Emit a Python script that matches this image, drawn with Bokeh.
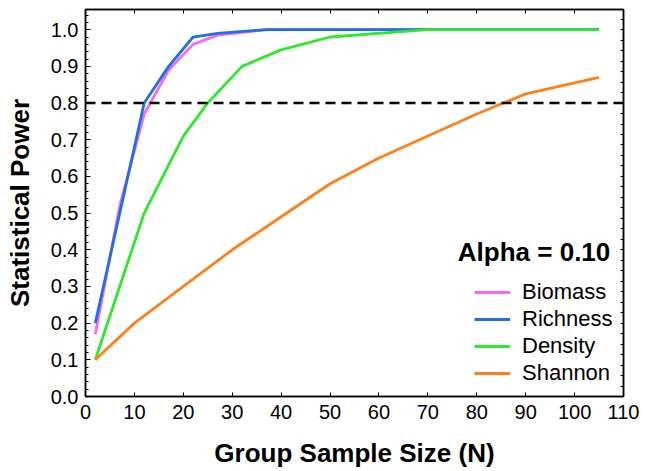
from bokeh.plotting import figure
from bokeh.models import (Range1d, LinearAxis, SingleIntervalTicker, Span, Legend,
                          LegendItem, Label, PrintfTickFormatter)
from bokeh.embed import file_html
from bokeh.resources import INLINE

# ---- data ----
biomass_n = [2, 7, 12, 17, 22, 27, 37, 50, 70, 105]
biomass_p = [0.17, 0.52, 0.77, 0.89, 0.96, 0.985, 1.0, 1.0, 1.0, 1.0]
richness_n = [2, 7, 12, 17, 22, 27, 37, 50, 70, 105]
richness_p = [0.20, 0.50, 0.80, 0.90, 0.98, 0.99, 1.0, 1.0, 1.0, 1.0]
density_n = [2, 12, 20, 25, 32, 40, 50, 70, 105]
density_p = [0.10, 0.50, 0.71, 0.80, 0.90, 0.945, 0.98, 1.0, 1.0]
shannon_n = [2, 10, 20, 30, 40, 50, 60, 70, 80, 90, 105]
shannon_p = [0.10, 0.20, 0.30, 0.40, 0.49, 0.58, 0.65, 0.71, 0.77, 0.825, 0.87]
threshold = 0.8
alpha_label = "Alpha = 0.10"
series_names = ["Biomass", "Richness", "Density", "Shannon"]
series_colors = ["#F46AF0", "#1F6FE6", "#2EE82E", "#FF8019"]

FONT = "Liberation Sans"

p = figure(width=640, height=470, x_range=Range1d(0, 110), y_range=Range1d(0, 1.055),
           output_backend="svg", toolbar_location=None,
           min_border_left=85, min_border_right=17, min_border_top=9, min_border_bottom=74)
p.grid.visible = False
p.outline_line_color = "black"
p.outline_line_width = 1.5
p.background_fill_color = "white"
p.border_fill_color = "white"

# bottom axis
xa = p.xaxis[0]
xa.ticker = SingleIntervalTicker(interval=10, num_minor_ticks=0)
xa.axis_label = "Group Sample Size (N)"
xa.axis_label_text_font = FONT
xa.axis_label_text_font_style = "bold"
xa.axis_label_text_font_size = "26px"
xa.axis_label_text_color = "black"
xa.axis_label_standoff = 16
xa.major_label_text_font = FONT
xa.major_label_text_font_size = "20px"
xa.major_label_text_color = "black"
xa.major_label_standoff = 8
xa.major_tick_in = 4
xa.major_tick_out = 0
xa.minor_tick_in = 0
xa.minor_tick_out = 0
xa.axis_line_width = 1.5
xa.axis_line_color = "black"

# left axis
ya = p.yaxis[0]
ya.ticker = SingleIntervalTicker(interval=0.1, num_minor_ticks=5)
ya.formatter = PrintfTickFormatter(format="%.1f")
ya.axis_label = "Statistical Power"
ya.axis_label_text_font = FONT
ya.axis_label_text_font_style = "bold"
ya.axis_label_text_font_size = "26px"
ya.axis_label_text_color = "black"
ya.axis_label_standoff = 13
ya.major_label_text_font = FONT
ya.major_label_text_font_size = "20px"
ya.major_label_text_color = "black"
ya.major_label_standoff = 7
ya.major_tick_in = 5
ya.major_tick_out = 0
ya.minor_tick_in = 3
ya.minor_tick_out = 0
ya.axis_line_width = 1.5
ya.axis_line_color = "black"

# top axis (ticks only, labels not drawn)
top = LinearAxis(ticker=SingleIntervalTicker(interval=10, num_minor_ticks=0),
                 major_label_text_color=None, major_label_standoff=0,
                 major_tick_in=4, major_tick_out=0, minor_tick_in=0, minor_tick_out=0,
                 axis_line_width=1.5, axis_label_standoff=0)
p.add_layout(top, "above")

# right axis (ticks only, labels not drawn)
right = LinearAxis(ticker=SingleIntervalTicker(interval=1/35, num_minor_ticks=0),
                   major_label_text_color=None, major_label_standoff=0,
                   major_tick_in=3, major_tick_out=0, minor_tick_in=0, minor_tick_out=0,
                   axis_line_width=1.5, axis_label_standoff=0)
p.add_layout(right, "right")

# threshold line
p.add_layout(Span(location=threshold, dimension="width", line_color="black",
                  line_width=2.5, line_dash="10 6"))

xs = [biomass_n, richness_n, density_n, shannon_n]
ys = [biomass_p, richness_p, density_p, shannon_p]
items = []
for name, color, x, y in zip(series_names, series_colors, xs, ys):
    r = p.line(x, y, line_color=color, line_width=2.8)
    items.append(LegendItem(label=name, renderers=[r]))

legend = Legend(items=items, location=(389, 10),
                label_text_font=FONT, label_text_font_size="22px",
                label_text_color="black",
                glyph_width=36, glyph_height=22, label_height=22, label_standoff=12,
                spacing=1, padding=4, margin=0,
                border_line_color=None, background_fill_alpha=0)
p.add_layout(legend)

p.add_layout(Label(x=107.3, y=0.393, text=alpha_label, text_align="right",
                   text_baseline="middle", text_font=FONT, text_font_style="bold",
                   text_font_size="26px", text_color="black"))

open("out.html", "w").write(file_html(p, INLINE))
